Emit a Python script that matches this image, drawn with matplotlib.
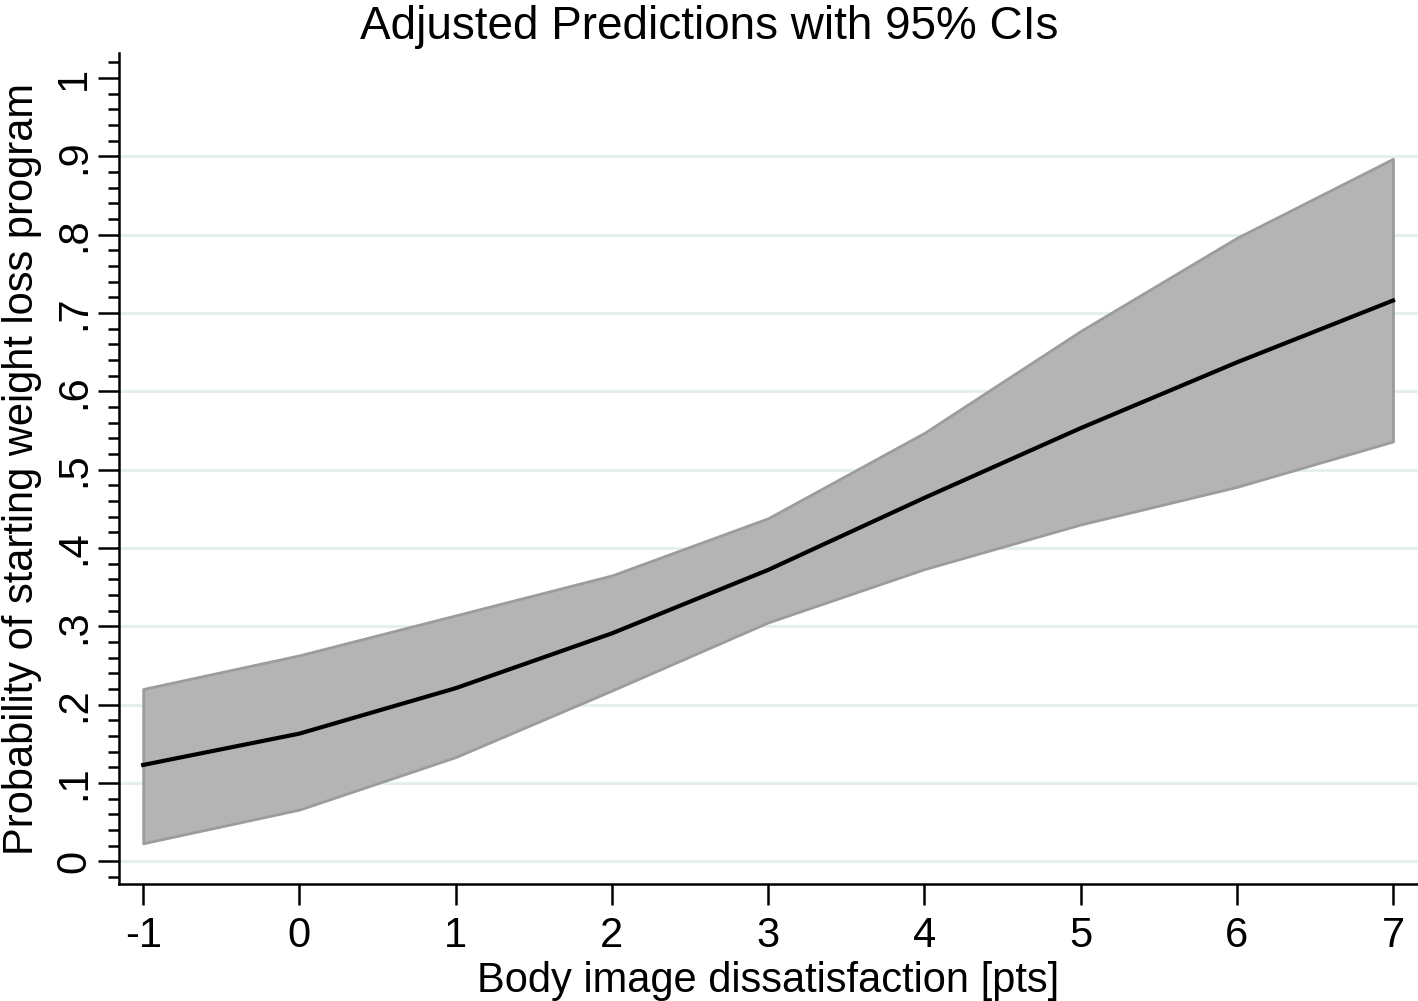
import matplotlib
matplotlib.use("Agg")
import matplotlib.pyplot as plt
from matplotlib.ticker import MultipleLocator

plt.rcParams["font.family"] = ["Liberation Sans", "DejaVu Sans"]
plt.rcParams["axes.unicode_minus"] = False

# predicted probability by body image dissatisfaction, with 95% CI
x_vals = [-1, 0, 1, 2, 3, 4, 5, 6, 7]
pred = [0.123, 0.163, 0.221, 0.291, 0.372, 0.464, 0.553, 0.637, 0.716]
ci_hi = [0.220, 0.263, 0.314, 0.365, 0.438, 0.547, 0.677, 0.796, 0.897]
ci_lo = [0.023, 0.066, 0.133, 0.218, 0.305, 0.373, 0.430, 0.478, 0.536]

y_ticks = [0, 0.1, 0.2, 0.3, 0.4, 0.5, 0.6, 0.7, 0.8, 0.9, 1.0]
y_labels = ["0", ".1", ".2", ".3", ".4", ".5", ".6", ".7", ".8", ".9", "1"]
grid_levels = y_ticks[:-1]

fig = plt.figure(figsize=(14.18, 10.01), dpi=100)
ax = fig.add_axes([0.0839, 0.1169, 0.9161, 0.8301])

for g in grid_levels:
    ax.axhline(g, color="#e6eff0", lw=2.2, zorder=0)

ax.fill_between(x_vals, ci_lo, ci_hi, facecolor="#b4b4b4", edgecolor="#9c9c9c",
                lw=2, zorder=2)
ax.plot(x_vals, pred, color="black", lw=3, zorder=3)

ax.set_xlim(-1.155, 7.16)
ax.set_ylim(-0.029, 1.032)
ax.set_xticks(x_vals)
ax.set_yticks(y_ticks)
ax.set_yticklabels(y_labels, rotation=90, va="center")
ax.yaxis.set_minor_locator(MultipleLocator(0.02))

ax.tick_params(axis="both", which="major", labelsize=30, length=15, width=1.8,
               color="black", pad=8)
ax.tick_params(axis="y", which="minor", length=8, width=1.8)
ax.tick_params(axis="y", which="major", pad=3)

for s in ["top", "right"]:
    ax.spines[s].set_visible(False)
for s in ["left", "bottom"]:
    ax.spines[s].set_linewidth(1.8)

ax.set_xlabel("Body image dissatisfaction [pts]", fontsize=30, labelpad=4)
ax.set_ylabel("Probability of starting weight loss program", fontsize=30)
ax.yaxis.label.set_va("center")
ax.yaxis.set_label_coords(-0.075, 0.5)
fig.suptitle("Adjusted Predictions with 95% CIs", fontsize=33, x=0.5, y=0.995,
             va="top")

fig.savefig("out.png", dpi=100)
